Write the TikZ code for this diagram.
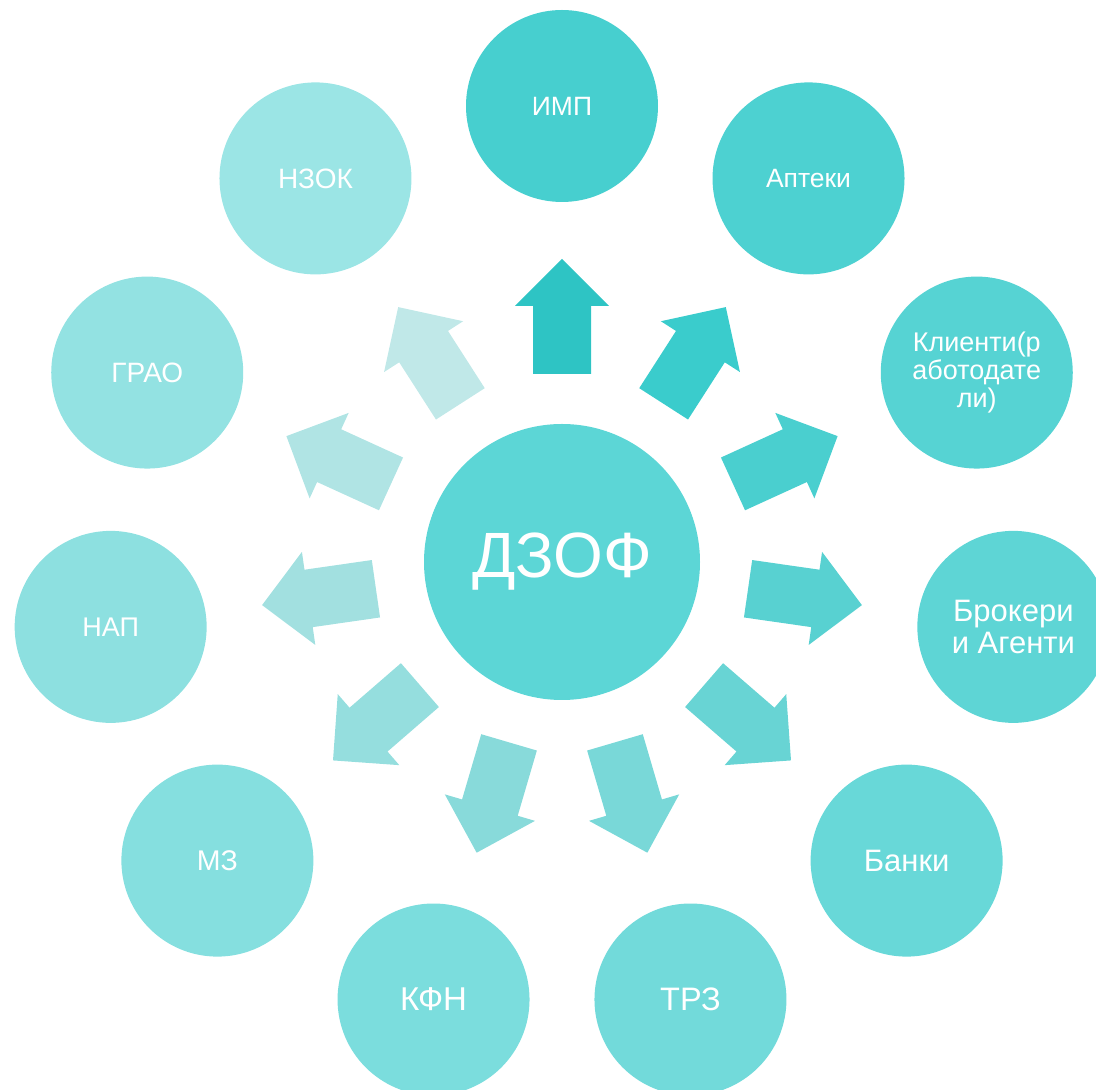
\documentclass[tikz,border=0pt]{standalone}
\usepackage{fontspec}
\setmainfont{Liberation Sans}
\definecolor{hubc}{HTML}{5CD6D6}
\definecolor{c0}{HTML}{47CFCF}
\definecolor{c1}{HTML}{4DD1D1}
\definecolor{c2}{HTML}{56D3D3}
\definecolor{c3}{HTML}{5ED5D5}
\definecolor{c4}{HTML}{68D8D8}
\definecolor{c5}{HTML}{72DADA}
\definecolor{c6}{HTML}{7BDDDD}
\definecolor{c7}{HTML}{85DFDF}
\definecolor{c8}{HTML}{8DE0E0}
\definecolor{c9}{HTML}{93E2E2}
\definecolor{c10}{HTML}{9BE5E5}
\definecolor{a0}{HTML}{2EC4C4}
\definecolor{a1}{HTML}{3ACCCC}
\definecolor{a2}{HTML}{4ACFCF}
\definecolor{a3}{HTML}{58D1D1}
\definecolor{a4}{HTML}{68D4D4}
\definecolor{a5}{HTML}{79D8D8}
\definecolor{a6}{HTML}{88DADA}
\definecolor{a7}{HTML}{95DEDE}
\definecolor{a8}{HTML}{A2E0E0}
\definecolor{a9}{HTML}{B0E4E4}
\definecolor{a10}{HTML}{C0E8E8}
\begin{document}
\begin{tikzpicture}[x=1pt,y=1pt,
  hub/.style={circle, fill=hubc, minimum size=276pt, inner sep=0pt, text=white,
    font=\fontsize{64}{70}\selectfont},
  sat/.style={circle, minimum size=192pt, inner sep=0pt, text=white, align=center},
  blockarrow/.style={draw=none}]
\useasboundingbox (0,0) rectangle (1096,1090);
\clip (0,0) rectangle (1096,1090);
\node[hub] (c) at (562,528) {ДЗОФ};
\foreach \k/\fs/\lab in {0/26.5/ИМП, 1/26.5/Аптеки, 2/27/{Клиенти(р\\аботодате\\ли)},
  3/31/{Брокери\\и Агенти}, 4/31/Банки, 5/32.5/ТРЗ, 6/33/КФН, 7/28.5/МЗ,
  8/27/НАП, 9/28/ГРАО, 10/28/НЗОК}{
  \pgfmathsetmacro\ang{90-\k*360/11}
  \pgfmathsetmacro\bs{1.03*\fs}
  \node[sat, fill=c\k, font=\fontsize{\fs}{\bs}\selectfont] (o\k)
    at ([shift={(\ang:456pt)}]c.center) {\lab};
  \begin{scope}[shift={(562,528)}, rotate=\ang]
    \fill[blockarrow, a\k] (188,-29) -- (256,-29) -- (256,-47) -- (303,0)
      -- (256,47) -- (256,29) -- (188,29) -- cycle;
  \end{scope}
}
\end{tikzpicture}
\end{document}
